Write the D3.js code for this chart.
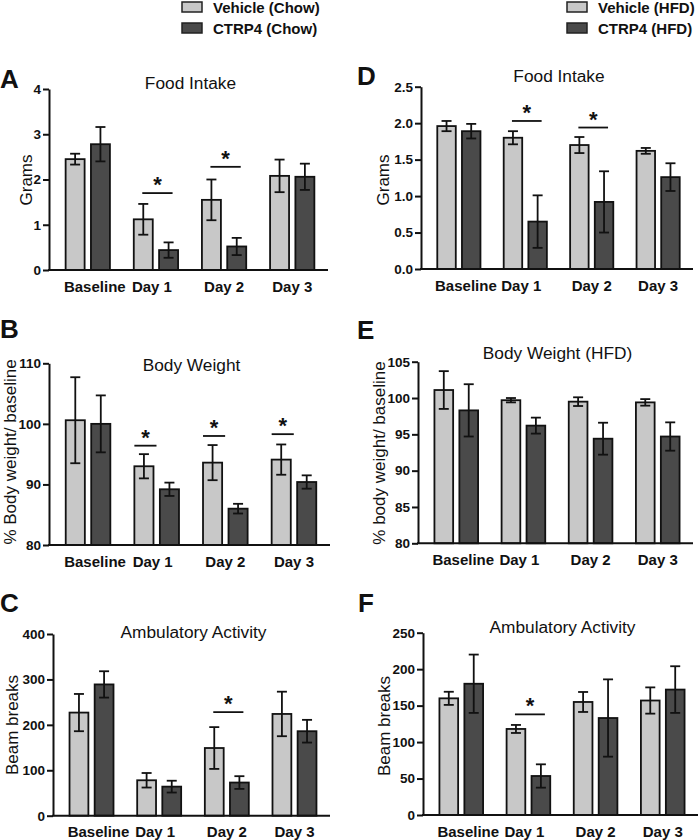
<!doctype html>
<html lang="en">
<head>
<meta charset="UTF-8">
<title>CTRP4 food intake, body weight, activity</title>
<style>
  body { margin: 0; background: #fff; }
  text { font-family: 'Liberation Sans', Arial, Helvetica, sans-serif; fill: #111; }
</style>
</head>
<body>
<svg id="fig" width="700" height="840"></svg>
<script src="https://cdn.jsdelivr.net/npm/d3@7"></script>
<script>
// ---- data ----
const days = ["Baseline", "Day 1", "Day 2", "Day 3"];
const series = ["Vehicle", "CTRP4"];

// A: food intake, chow (grams)
const foodChowVeh = [2.45, 1.12, 1.55, 2.08];
const foodChowVehErr = [0.12, 0.34, 0.45, 0.36];
const foodChowCtrp = [2.78, 0.44, 0.52, 2.06];
const foodChowCtrpErr = [0.38, 0.17, 0.19, 0.29];
const sigA = [{day: "Day 1", at: 1.70}, {day: "Day 2", at: 2.28}];

// B: body weight, chow (% of baseline)
const bwChowVeh = [100.6, 93.0, 93.6, 94.1];
const bwChowVehErr = [7.1, 2.0, 2.9, 2.5];
const bwChowCtrp = [100.0, 89.2, 86.0, 90.4];
const bwChowCtrpErr = [4.7, 1.1, 0.8, 1.1];
const sigB = [{day: "Day 1", at: 96.4}, {day: "Day 2", at: 98.0}, {day: "Day 3", at: 98.3}];

// C: ambulatory activity, chow (beam breaks)
const actChowVeh = [227, 78, 149, 224];
const actChowVehErr = [41, 16, 46, 49];
const actChowCtrp = [289, 64, 73, 186];
const actChowCtrpErr = [29, 13, 14, 25];
const sigC = [{day: "Day 2", at: 228}];

// D: food intake, HFD (grams)
const foodHfdVeh = [1.96, 1.80, 1.70, 1.62];
const foodHfdVehErr = [0.07, 0.09, 0.11, 0.04];
const foodHfdCtrp = [1.89, 0.65, 0.92, 1.26];
const foodHfdCtrpErr = [0.10, 0.36, 0.42, 0.19];
const sigD = [{day: "Day 1", at: 2.03}, {day: "Day 2", at: 1.94}];

// E: body weight, HFD (% of baseline)
const bwHfdVeh = [101.1, 99.7, 99.5, 99.4];
const bwHfdVehErr = [2.6, 0.3, 0.6, 0.45];
const bwHfdCtrp = [98.3, 96.2, 94.4, 94.7];
const bwHfdCtrpErr = [3.6, 1.1, 2.2, 1.95];
const sigE = [];

// F: ambulatory activity, HFD (beam breaks)
const actHfdVeh = [160, 118, 155, 157];
const actHfdVehErr = [9, 5.5, 13.7, 18];
const actHfdCtrp = [180, 53.5, 133, 172];
const actHfdCtrpErr = [40, 16, 53, 32];
const sigF = [{day: "Day 1", at: 138}];

const ticksA = [0, 1, 2, 3, 4];
const ticksB = [80, 90, 100, 110];
const ticksC = [0, 100, 200, 300, 400];
const ticksD = [0, 0.5, 1, 1.5, 2, 2.5];
const ticksE = [80, 85, 90, 95, 100, 105];
const ticksF = [0, 50, 100, 150, 200, 250];

const legendChow = ["Vehicle (Chow)", "CTRP4 (Chow)"];
const legendHfd = ["Vehicle (HFD)", "CTRP4 (HFD)"];

// ---- styling / layout ----
const FILL = {Vehicle: "#c8c8c8", CTRP4: "#4a4a4a"};
const INK = "#111";
const LABEL_NUDGE = [7, -4, 0, 0]; // x-label shifts as in the original figure

const panels = [
  {letter: "A", title: "Food Intake", ylab: "Grams", domain: [0, 4], ticks: ticksA, fmt: d3.format("d"),
   veh: foodChowVeh, vehErr: foodChowVehErr, ctrp: foodChowCtrp, ctrpErr: foodChowCtrpErr, sig: sigA, span: "pair",
   L: {x0: 49, x1: 328, top: 89, bottom: 270, lx: 0, ly: 88, ty: 89, yl: 32, ylc: 180}},
  {letter: "B", title: "Body Weight", ylab: "% Body weight/ baseline", domain: [80, 110], ticks: ticksB, fmt: d3.format("d"),
   veh: bwChowVeh, vehErr: bwChowVehErr, ctrp: bwChowCtrp, ctrpErr: bwChowCtrpErr, sig: sigB, span: "vehicle",
   L: {x0: 49, x1: 330, top: 363.3, bottom: 545, lx: 0, ly: 338, ty: 371, yl: 16, ylc: 452}},
  {letter: "C", title: "Ambulatory Activity", ylab: "Beam breaks", domain: [0, 400], ticks: ticksC, fmt: d3.format("d"),
   veh: actChowVeh, vehErr: actChowVehErr, ctrp: actChowCtrp, ctrpErr: actChowCtrpErr, sig: sigC, span: "pair",
   L: {x0: 53, x1: 330, top: 634, bottom: 815.7, lx: 0, ly: 612, ty: 638, yl: 18, ylc: 725}},
  {letter: "D", title: "Food Intake", ylab: "Grams", domain: [0, 2.5], ticks: ticksD, fmt: d3.format(".1f"),
   veh: foodHfdVeh, vehErr: foodHfdVehErr, ctrp: foodHfdCtrp, ctrpErr: foodHfdCtrpErr, sig: sigD, span: "pair",
   L: {x0: 421, x1: 693, top: 86.7, bottom: 269, lx: 357, ly: 85, ty: 82, yl: 389, ylc: 180}},
  {letter: "E", title: "Body Weight (HFD)", ylab: "% body weight/ baseline", domain: [80, 105], ticks: ticksE, fmt: d3.format("d"),
   veh: bwHfdVeh, vehErr: bwHfdVehErr, ctrp: bwHfdCtrp, ctrpErr: bwHfdCtrpErr, sig: sigE, span: "pair",
   L: {x0: 418, x1: 693, top: 361.7, bottom: 543.3, lx: 357, ly: 339, ty: 359, yl: 385, ylc: 453}},
  {letter: "F", title: "Ambulatory Activity", ylab: "Beam breaks", domain: [0, 250], ticks: ticksF, fmt: d3.format("d"),
   veh: actHfdVeh, vehErr: actHfdVehErr, ctrp: actHfdCtrp, ctrpErr: actHfdCtrpErr, sig: sigF, span: "pair",
   L: {x0: 423, x1: 698, top: 632.7, bottom: 815, lx: 358, ly: 612, ty: 633, yl: 390, ylc: 726}}
];

const svg = d3.select("#fig");

function drawLegend(labels, x, y) {
  const g = svg.append("g").attr("transform", `translate(${x},${y})`);
  labels.forEach((lab, i) => {
    g.append("rect").attr("x", 0).attr("y", i * 21).attr("width", 20).attr("height", 10)
      .attr("fill", FILL[series[i]]).attr("stroke", "#222").attr("stroke-width", 1.5);
    g.append("text").attr("x", 31).attr("y", i * 21 + 10.5)
      .attr("font-size", 15).attr("font-weight", "bold").text(lab);
  });
}

function drawPanel(p) {
  const L = p.L;
  const g = svg.append("g");

  const x = d3.scaleBand().domain(days).range([L.x0 + 3, L.x1]).paddingInner(0.35).paddingOuter(0.2);
  const xs = d3.scaleBand().domain(series).range([0, x.bandwidth()]).paddingInner(0.25);
  const y = d3.scaleLinear().domain(p.domain).range([L.bottom, L.top]);

  const rows = [];
  days.forEach((d, i) => {
    rows.push({day: d, s: "Vehicle", v: p.veh[i], e: p.vehErr[i]});
    rows.push({day: d, s: "CTRP4", v: p.ctrp[i], e: p.ctrpErr[i]});
  });
  const cx = r => x(r.day) + xs(r.s) + xs.bandwidth() / 2;

  g.selectAll("rect.bar").data(rows).join("rect").attr("class", "bar")
    .attr("x", r => x(r.day) + xs(r.s))
    .attr("y", r => y(r.v))
    .attr("width", xs.bandwidth())
    .attr("height", r => y(p.domain[0]) - y(r.v))
    .attr("fill", r => FILL[r.s])
    .attr("stroke", INK).attr("stroke-width", 1.8);

  // error bars
  const eb = g.selectAll("g.err").data(rows).join("g").attr("class", "err")
    .attr("stroke", INK).attr("stroke-width", 1.8);
  eb.append("line").attr("x1", cx).attr("x2", cx)
    .attr("y1", r => y(r.v - r.e)).attr("y2", r => y(r.v + r.e));
  eb.append("line").attr("x1", r => cx(r) - 5).attr("x2", r => cx(r) + 5)
    .attr("y1", r => y(r.v + r.e)).attr("y2", r => y(r.v + r.e));
  eb.append("line").attr("x1", r => cx(r) - 5).attr("x2", r => cx(r) + 5)
    .attr("y1", r => y(r.v - r.e)).attr("y2", r => y(r.v - r.e));

  // significance markers
  p.sig.forEach(s => {
    const vl = x(s.day) + xs("Vehicle");
    const vc = vl + xs.bandwidth() / 2;
    const ccen = x(s.day) + xs("CTRP4") + xs.bandwidth() / 2;
    const a = p.span === "pair" ? vc - 1 : vl;
    const b = p.span === "pair" ? ccen + 4 : vl + xs.bandwidth() + 3;
    g.append("line").attr("x1", a).attr("x2", b).attr("y1", y(s.at)).attr("y2", y(s.at))
      .attr("stroke", INK).attr("stroke-width", 1.8);
    g.append("text").attr("x", (a + b) / 2).attr("y", y(s.at) - 1)
      .attr("text-anchor", "middle").attr("font-size", 22).attr("font-weight", "bold").text("*");
  });

  // y axis
  const ya = g.append("g").attr("transform", `translate(${L.x0},0)`)
    .call(d3.axisLeft(y).tickValues(p.ticks).tickFormat(p.fmt).tickSize(6).tickPadding(2).tickSizeOuter(0));
  ya.select(".domain").attr("stroke", INK).attr("stroke-width", 2);
  ya.selectAll(".tick line").attr("stroke", INK).attr("stroke-width", 2);
  ya.selectAll(".tick text").attr("font-size", 13.5).attr("font-weight", "bold").attr("fill", INK);

  // x axis
  const xa = g.append("g").attr("transform", `translate(0,${L.bottom})`)
    .call(d3.axisBottom(x).tickSize(0).tickPadding(11));
  xa.select(".domain").remove();
  xa.selectAll(".tick text").attr("font-size", 15).attr("font-weight", "bold").attr("fill", INK)
    .attr("dx", (d, i) => LABEL_NUDGE[i]);
  g.append("line").attr("x1", L.x0 - 1).attr("x2", L.x1).attr("y1", L.bottom).attr("y2", L.bottom)
    .attr("stroke", INK).attr("stroke-width", 2);

  // titles and labels
  g.append("text").attr("x", (L.x0 + L.x1) / 2 + 2).attr("y", L.ty)
    .attr("text-anchor", "middle").attr("font-size", 17.3).text(p.title);
  g.append("text").attr("transform", `translate(${L.yl},${L.ylc}) rotate(-90)`)
    .attr("text-anchor", "middle").attr("font-size", 17).text(p.ylab);
  g.append("text").attr("x", L.lx).attr("y", L.ly)
    .attr("font-size", 26).attr("font-weight", "bold").text(p.letter);
}

drawLegend(legendChow, 182, 2);
drawLegend(legendHfd, 567, 2);
panels.forEach(drawPanel);
</script>
</body>
</html>
